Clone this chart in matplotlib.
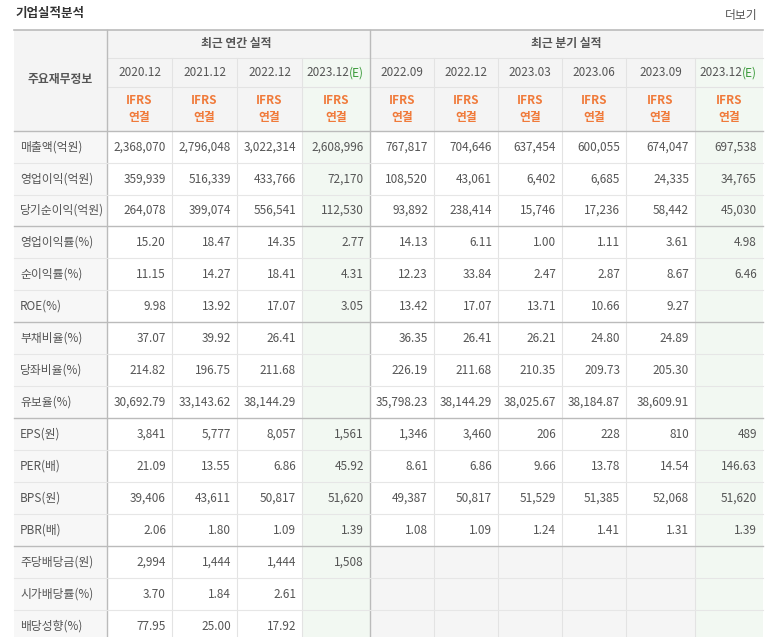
import matplotlib
matplotlib.use("Agg")
import matplotlib.pyplot as plt
from matplotlib.patches import Rectangle

plt.rcParams["font.family"] = "Noto Sans CJK KR"

# data
annual_periods = ["2020.12", "2021.12", "2022.12", "2023.12"]
quarter_periods = ["2022.09", "2022.12", "2023.03", "2023.06", "2023.09", "2023.12"]
row_labels = ["매출액(억원)", "영업이익(억원)", "당기순이익(억원)", "영업이익률(%)", "순이익률(%)",
              "ROE(%)", "부채비율(%)", "당좌비율(%)", "유보율(%)", "EPS(원)", "PER(배)",
              "BPS(원)", "PBR(배)", "주당배당금(원)", "시가배당률(%)", "배당성향(%)"]
annual_values = [
    ["2,368,070", "2,796,048", "3,022,314", "2,608,996"],
    ["359,939", "516,339", "433,766", "72,170"],
    ["264,078", "399,074", "556,541", "112,530"],
    ["15.20", "18.47", "14.35", "2.77"],
    ["11.15", "14.27", "18.41", "4.31"],
    ["9.98", "13.92", "17.07", "3.05"],
    ["37.07", "39.92", "26.41", ""],
    ["214.82", "196.75", "211.68", ""],
    ["30,692.79", "33,143.62", "38,144.29", ""],
    ["3,841", "5,777", "8,057", "1,561"],
    ["21.09", "13.55", "6.86", "45.92"],
    ["39,406", "43,611", "50,817", "51,620"],
    ["2.06", "1.80", "1.09", "1.39"],
    ["2,994", "1,444", "1,444", "1,508"],
    ["3.70", "1.84", "2.61", ""],
    ["77.95", "25.00", "17.92", ""],
]
quarter_values = [
    ["767,817", "704,646", "637,454", "600,055", "674,047", "697,538"],
    ["108,520", "43,061", "6,402", "6,685", "24,335", "34,765"],
    ["93,892", "238,414", "15,746", "17,236", "58,442", "45,030"],
    ["14.13", "6.11", "1.00", "1.11", "3.61", "4.98"],
    ["12.23", "33.84", "2.47", "2.87", "8.67", "6.46"],
    ["13.42", "17.07", "13.71", "10.66", "9.27", ""],
    ["36.35", "26.41", "26.21", "24.80", "24.89", ""],
    ["226.19", "211.68", "210.35", "209.73", "205.30", ""],
    ["35,798.23", "38,144.29", "38,025.67", "38,184.87", "38,609.91", ""],
    ["1,346", "3,460", "206", "228", "810", "489"],
    ["8.61", "6.86", "9.66", "13.78", "14.54", "146.63"],
    ["49,387", "50,817", "51,529", "51,385", "52,068", "51,620"],
    ["1.08", "1.09", "1.24", "1.41", "1.31", "1.39"],
    ["", "", "", "", "", ""],
    ["", "", "", "", "", ""],
    ["", "", "", "", "", ""],
]

fig = plt.figure(figsize=(7.67, 6.37), dpi=100)
ax = fig.add_axes([0, 0, 1, 1])
ax.set_xlim(0, 767)
ax.set_ylim(637, 0)
ax.axis("off")

col_edges = [14, 107, 172, 237, 302, 370, 434, 498, 562, 626, 695, 763]
row_edges = [131, 163, 195, 226, 258, 290, 322, 354, 386, 418, 450, 482, 514, 546, 578, 610, 642]
group_lines = [131, 226, 322, 418, 546]
green_cols = [4, 10]
txt = "#555555"
fs = 8.5

def rect(x0, y0, x1, y1, c):
    ax.add_patch(Rectangle((x0, y0), x1 - x0, y1 - y0, facecolor=c, edgecolor="none", zorder=0))

# backgrounds
rect(14, 30, 763, 131, "#f4f4f4")
rect(14, 131, 107, 637, "#f7f7f7")
for c in green_cols:
    rect(col_edges[c], 58, col_edges[c + 1], 637, "#f2f8f2")
rect(370, 546, 695, 637, "#f5f5f5")

# title
ax.text(16, 13, "기업실적분석", fontsize=9, fontweight="bold", color="#333", va="center")
ax.text(757, 16, "더보기", fontsize=8.5, color="#555", va="center", ha="right")
ax.plot([14, 763], [30, 30], color="#bbbbbb", lw=1.2)

# header
ax.text(60, 80, "주요재무정보", fontsize=fs, color=txt, ha="center", va="center", fontweight="bold")
ax.text(236, 44, "최근 연간 실적", fontsize=fs, color=txt, ha="center", va="center", fontweight="bold")
ax.text(566, 44, "최근 분기 실적", fontsize=fs, color=txt, ha="center", va="center", fontweight="bold")
periods = annual_periods + quarter_periods
for i, p in enumerate(periods):
    cx = (col_edges[i + 1] + col_edges[i + 2]) / 2
    if i in (3, 9):
        ax.text(cx - 8, 73, p, fontsize=fs, color=txt, ha="center", va="center")
        ax.text(cx + 20, 73, "(E)", fontsize=fs, color="#3a9a3a", ha="center", va="center")
    else:
        ax.text(cx, 73, p, fontsize=fs, color=txt, ha="center", va="center")
    ax.text(cx, 101, "IFRS", fontsize=fs, color="#f07a3a", ha="center", va="center", fontweight="bold")
    ax.text(cx, 117, "연결", fontsize=fs, color="#f07a3a", ha="center", va="center", fontweight="bold")

# header lines
ax.plot([107, 763], [58, 58], color="#e3e3e3", lw=0.8)
ax.plot([107, 763], [87, 87], color="#e3e3e3", lw=0.8)
for x in col_edges[2:-1]:
    if x not in (370,):
        ax.plot([x, x], [58, 637], color="#e3e3e3", lw=0.8)
ax.plot([107, 107], [30, 637], color="#bbbbbb", lw=1.0)
ax.plot([370, 370], [30, 637], color="#bbbbbb", lw=1.0)

# rows
for r, lab in enumerate(row_labels):
    y0, y1 = row_edges[r], row_edges[r + 1]
    cy = (y0 + y1) / 2
    ax.text(20, cy, lab, fontsize=fs, color=txt, ha="left", va="center")
    vals = annual_values[r] + quarter_values[r]
    for i, v in enumerate(vals):
        ax.text(col_edges[i + 2] - 6, cy, v, fontsize=fs, color=txt, ha="right", va="center")
    if y0 not in group_lines:
        ax.plot([14, 763], [y0, y0], color="#e6e6e6", lw=0.8)
for y in group_lines:
    ax.plot([14, 763], [y, y], color="#bbbbbb", lw=1.0)

fig.savefig("out.png", dpi=100)
